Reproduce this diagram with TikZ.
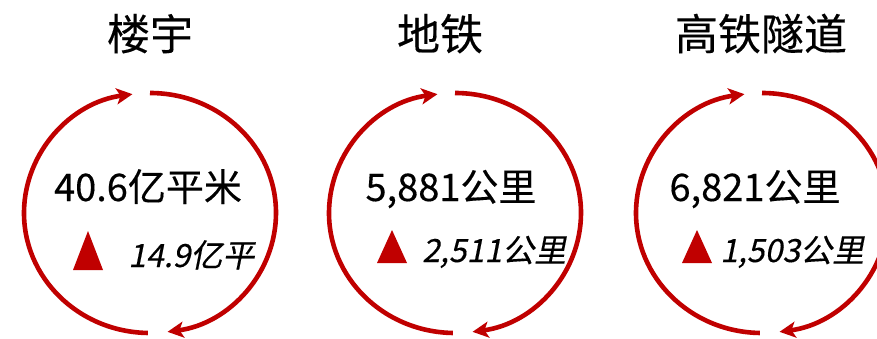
\documentclass[tikz,border=0pt]{standalone}
\usepackage{fontspec}
\setmainfont[AutoFakeSlant=0.2,FakeBold=0.3]{Noto Sans CJK SC}
\usetikzlibrary{arrows.meta}
\definecolor{ringred}{HTML}{C00000}
\begin{document}
\begin{tikzpicture}[x=1pt,y=1pt,
  ring/.style={draw=ringred, line width=4.6pt, -{Stealth[length=16pt,width=16pt,inset=4pt]}},
  title/.style={font=\fontsize{43}{43}\selectfont, inner sep=0pt, anchor=base},
  big/.style={font=\fontsize{38}{38}\selectfont, inner sep=0pt, anchor=base},
  small/.style={font=\fontsize{32}{32}\selectfont\itshape, inner sep=0pt, anchor=base west},
  tri/.style={fill=ringred}]
\useasboundingbox (0,0) rectangle (877,338);
\fill[white] (0,0) rectangle (877,338);
% centres
\coordinate (c1) at (150,125);
\coordinate (c2) at (455,125);
\coordinate (c3) at (762,125);
% titles
\node[title] (t1) at (150,288) {楼宇};
\node[title] (t2) at (440,288) {地铁};
\node[title] (t3) at (761,288) {高铁隧道};
% rings
\foreach \c in {c1,c2,c3}{
  \draw[ring] ([shift={(90:126 and 120)}]\c) arc[start angle=90,end angle=-82,x radius=126,y radius=120];
  \draw[ring] ([shift={(269:126 and 120)}]\c) arc[start angle=269,end angle=98,x radius=126,y radius=120];
}
% main values
\node[big] (v1) at (148,137) {40.6亿平米};
\node[big] (v2) at (451,137) {5,881公里};
\node[big] (v3) at (755,137) {6,821公里};
% increments
\fill[tri] (73,68) -- (103,68) -- (88,107) -- cycle;
\fill[tri] (377,75) -- (407,75) -- (392,108) -- cycle;
\fill[tri] (682,75) -- (712,75) -- (697,108) -- cycle;
\node[small] (d1) at (128,71) {14.9亿平};
\node[small] (d2) at (422,76) {2,511公里};
\node[small] (d3) at (720,76) {1,503公里};
\end{tikzpicture}
\end{document}
